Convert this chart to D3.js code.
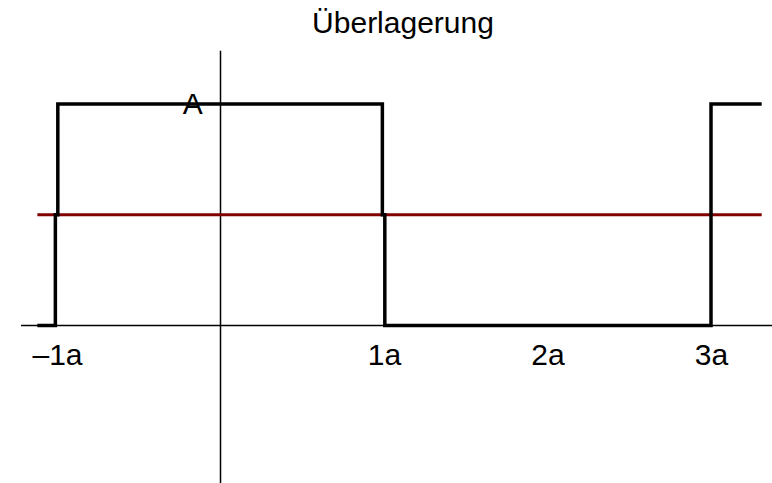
<!DOCTYPE html>
<html>
<head>
<meta charset="utf-8">
<script src="https://cdn.jsdelivr.net/npm/d3@7"></script>
<style>
  html, body { margin: 0; padding: 0; background: #fff; }
  svg { display: block; }
  text { font-family: "Liberation Sans", Arial, sans-serif; fill: #000; }
</style>
</head>
<body>
<div id="chart"></div>
<script>
// values in units of a (x) and relative amplitude (y)
const waveX = [-1.12, -1.01, -1.01, -0.995, -0.995, 0.99, 0.99, 1.005, 1.005, 3.0, 3.0, 3.31];
const waveY = [0, 0, 0.5, 0.5, 1, 1, 0.5, 0.5, 0, 0, 1, 1];
const meanX = [-1.12, 3.31];
const meanY = [0.5, 0.5];
const tickValues = [-1, 1, 2, 3];
const tickLabels = ["\u20131a", "1a", "2a", "3a"];
const xExtent = [-1.22, 3.4];
const yExtent = [-0.72, 1.24];
const title = "Überlagerung";
const peakLabel = "A";

const width = 772;
const height = 483;

const svg = d3.select("#chart")
  .append("svg")
  .attr("width", width)
  .attr("height", height);

const x = d3.scaleLinear().domain([-1, 3]).range([57, 711]);
const y = d3.scaleLinear().domain([0, 1]).range([325.5, 104]);

// axes
svg.append("line")
  .attr("x1", x(xExtent[0])).attr("x2", x(xExtent[1]))
  .attr("y1", y(0)).attr("y2", y(0))
  .attr("stroke", "#000").attr("stroke-width", 1.5);

svg.append("line")
  .attr("x1", x(0)).attr("x2", x(0))
  .attr("y1", y(yExtent[1])).attr("y2", y(yExtent[0]))
  .attr("stroke", "#000").attr("stroke-width", 1.5);

const xAxis = d3.axisBottom(x)
  .tickValues(tickValues)
  .tickSize(0)
  .tickPadding(0)
  .tickFormat((d, i) => tickLabels[i]);

const ax = svg.append("g")
  .attr("transform", `translate(0, ${y(0)})`)
  .call(xAxis);
ax.select(".domain").remove();
ax.selectAll("text")
  .attr("y", 39)
  .attr("dy", null)
  .attr("font-size", 30)
  .attr("font-family", "Liberation Sans, Arial, sans-serif")
  .attr("fill", "#000");

// mean line
const meanLine = d3.line().x(d => x(d[0])).y(d => y(d[1]));
svg.append("path")
  .attr("d", meanLine(d3.zip(meanX, meanY)))
  .attr("fill", "none")
  .attr("stroke", "#800000")
  .attr("stroke-width", 3);

// superposed wave
svg.append("path")
  .attr("d", meanLine(d3.zip(waveX, waveY)))
  .attr("fill", "none")
  .attr("stroke", "#000")
  .attr("stroke-width", 3.5)
  .attr("stroke-linejoin", "miter");

svg.append("text")
  .attr("x", x(-0.17))
  .attr("y", y(1) + 10)
  .attr("text-anchor", "middle")
  .attr("font-size", 30)
  .text(peakLabel);

svg.append("text")
  .attr("x", 403)
  .attr("y", 33)
  .attr("text-anchor", "middle")
  .attr("font-size", 30)
  .text(title);
</script>
</body>
</html>
